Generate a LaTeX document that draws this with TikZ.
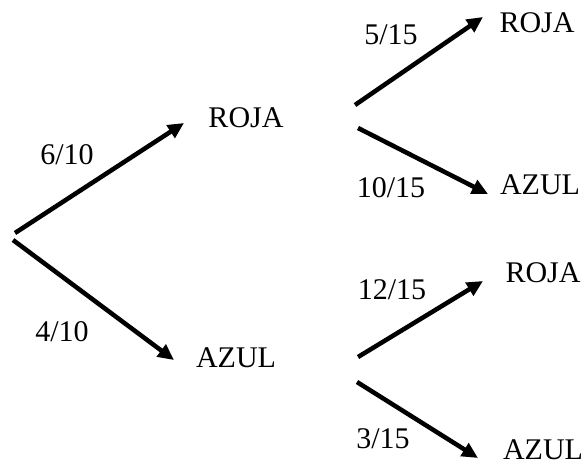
\documentclass[tikz,border=0pt]{standalone}
\usepackage{fontspec}
\setmainfont{Liberation Serif}
\usetikzlibrary{arrows.meta}

\begin{document}
\begin{tikzpicture}[x=0.75pt,y=0.75pt,yscale=-1,xscale=1,
  txt/.style={inner sep=0pt,font=\fontsize{22.5}{27}\selectfont},
  branch/.style={line width=3.4pt,-{Triangle[length=12pt,width=11pt]}}]
\useasboundingbox (0,0) rectangle (585,465);

% Text Node
\node [txt] (roja1) at (246,118) {ROJA};
% Text Node
\node [txt] (azul1) at (236,358) {AZUL};
% Text Node
\node [txt] (roja2) at (537,23) {ROJA};
% Text Node
\node [txt] (azul2) at (540,185) {AZUL};
% Text Node
\node [txt] (roja3) at (543,273) {ROJA};
% Text Node
\node [txt] (azul3) at (543,450) {AZUL};

% Text Node
\node [txt] (p610) at (67,155) {6/10};
% Text Node
\node [txt] (p410) at (62,332) {4/10};
% Text Node
\node [txt] (p515) at (391,35) {5/15};
% Text Node
\node [txt] (p1015) at (391,188) {10/15};
% Text Node
\node [txt] (p1215) at (392,290) {12/15};
% Text Node
\node [txt] (p315) at (383,439) {3/15};

%Points where the branches start and stop
\coordinate (r0a) at (15,233);
\coordinate (r0b) at (13,240);
\coordinate (r1a) at (184,123);
\coordinate (a1a) at (174,360);
\coordinate (r1o) at (355,105);
\coordinate (r1p) at (358,128);
\coordinate (a1o) at (358,357);
\coordinate (a1p) at (357,382);
\coordinate (r2a) at (483,17);
\coordinate (a2a) at (488,194);
\coordinate (r3a) at (483,281);
\coordinate (a3a) at (478,458);

%Straight Lines
\draw [branch] (r0a) -- (r1a);
\draw [branch] (r0b) -- (a1a);
\draw [branch] (r1o) -- (r2a);
\draw [branch] (r1p) -- (a2a);
\draw [branch] (a1o) -- (r3a);
\draw [branch] (a1p) -- (a3a);

\end{tikzpicture}
\end{document}
